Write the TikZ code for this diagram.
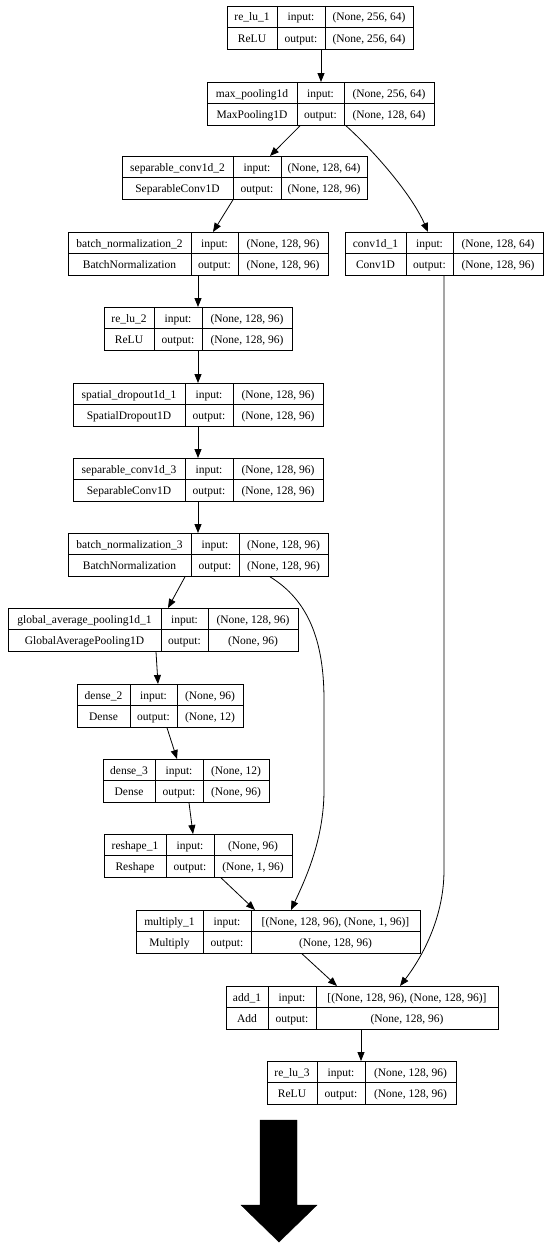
\documentclass[tikz,border=0pt]{standalone}
\usepackage{fontspec}
\setmainfont{Liberation Serif}
\usetikzlibrary{arrows.meta}
\tikzset{
  box/.style={draw, line width=0.8pt, inner sep=0pt, minimum height=43pt, anchor=north west},
  cell/.style={line width=0.8pt},
  txt/.style={inner sep=0pt, anchor=base, font=\fontsize{11.5}{13}\selectfont},
  edge/.style={line width=0.8pt, -{Triangle[length=9pt,width=7pt]}},
  bigarrow/.style={fill=black, draw=black}
}
\newcommand\lay[8]{\def\Ln{#1}\def\La{#2}\def\Lb{#3}\def\Lc{#4}\def\Ld{#5}\def\Lt{#6}\def\Lname{#7}\def\Lcls{#8}\layio}
\newcommand\layio[2]{%
  \pgfmathsetmacro\Lm{\Lt+21.5}\pgfmathsetmacro\Lbt{\Lt+43}%
  \pgfmathsetmacro\Lra{\Lt+15}\pgfmathsetmacro\Lrb{\Lt+36.5}%
  \pgfmathsetmacro\Lxa{(\La+\Lb)/2}\pgfmathsetmacro\Lxb{(\Lb+\Lc)/2}\pgfmathsetmacro\Lxc{(\Lc+\Ld)/2}%
  \pgfmathsetmacro\Lw{\Ld-\La}%
  \node[box, minimum width=\Lw pt] (\Ln) at (\La,\Lt) {};
  \draw[cell] (\Lb,\Lt) -- (\Lb,\Lbt) (\Lc,\Lt) -- (\Lc,\Lbt) (\La,\Lm) -- (\Ld,\Lm);
  \node[txt] (\Ln-name) at (\Lxa,\Lra) {\Lname};
  \node[txt] (\Ln-cls) at (\Lxa,\Lrb) {\Lcls};
  \node[txt] (\Ln-inl) at (\Lxb,\Lra) {input:};
  \node[txt] (\Ln-outl) at (\Lxb,\Lrb) {output:};
  \node[txt] (\Ln-in) at (\Lxc,\Lra) {#1};
  \node[txt] (\Ln-out) at (\Lxc,\Lrb) {#2};
}
\begin{document}
\begin{tikzpicture}[x=1pt,y=-1pt]
\useasboundingbox (0,0) rectangle (550,1247);
\lay{re1}{227}{277}{325}{413}{6}{re\_lu\_1}{ReLU}{(None, 256, 64)}{(None, 256, 64)}
\lay{mp}{207}{297}{344}{434}{82}{max\_pooling1d}{MaxPooling1D}{(None, 256, 64)}{(None, 128, 64)}
\lay{sep2}{122}{233}{281}{367}{156}{separable\_conv1d\_2}{SeparableConv1D}{(None, 128, 64)}{(None, 128, 96)}
\lay{bn2}{68}{191}{238}{328}{232}{batch\_normalization\_2}{BatchNormalization}{(None, 128, 96)}{(None, 128, 96)}
\lay{conv}{345}{406}{453}{543}{232}{conv1d\_1}{Conv1D}{(None, 128, 64)}{(None, 128, 96)}
\lay{relu2}{104}{154}{202}{292}{307}{re\_lu\_2}{ReLU}{(None, 128, 96)}{(None, 128, 96)}
\lay{sp}{73}{185}{233}{323}{383}{spatial\_dropout1d\_1}{SpatialDropout1D}{(None, 128, 96)}{(None, 128, 96)}
\lay{sep3}{73}{185}{233}{323}{458}{separable\_conv1d\_3}{SeparableConv1D}{(None, 128, 96)}{(None, 128, 96)}
\lay{bn3}{68}{191}{239}{328}{533}{batch\_normalization\_3}{BatchNormalization}{(None, 128, 96)}{(None, 128, 96)}
\lay{gap}{8}{161}{208}{298}{608}{global\_average\_pooling1d\_1}{GlobalAveragePooling1D}{(None, 128, 96)}{(None, 96)}
\lay{d2}{77}{130}{177}{243}{684}{dense\_2}{Dense}{(None, 96)}{(None, 12)}
\lay{d3}{103}{155}{203}{269}{759}{dense\_3}{Dense}{(None, 12)}{(None, 96)}
\lay{rs}{104}{166}{214}{292}{834}{reshape\_1}{Reshape}{(None, 96)}{(None, 1, 96)}
\lay{mul}{136}{203}{251}{420}{910}{multiply\_1}{Multiply}{[(None, 128, 96), (None, 1, 96)]}{(None, 128, 96)}
\lay{add}{226}{268}{316}{498}{986}{add\_1}{Add}{[(None, 128, 96), (None, 128, 96)]}{(None, 128, 96)}
\lay{relu3}{267}{317}{365}{456}{1061}{re\_lu\_3}{ReLU}{(None, 128, 96)}{(None, 128, 96)}
% connectors
\draw[edge] ([xshift=94pt]re1.south west) -- ([xshift=114pt]mp.north west);
\draw[edge] ([xshift=93pt]mp.south west) -- ([xshift=148pt]sep2.north west);
\draw[edge] ([xshift=139pt]mp.south west) .. controls (375,152) and (412,195) .. ([xshift=83pt]conv.north west);
\draw[edge] ([xshift=111pt]sep2.south west) -- ([xshift=145pt]bn2.north west);
\draw[edge] ([xshift=130pt]bn2.south west) -- ([xshift=94pt]relu2.north west);
\draw[edge] ([xshift=94pt]relu2.south west) -- ([xshift=125pt]sp.north west);
\draw[edge] ([xshift=125pt]sp.south west) -- ([xshift=125pt]sep3.north west);
\draw[edge] ([xshift=125pt]sep3.south west) -- ([xshift=130pt]bn3.north west);
\draw[edge] ([xshift=117pt]bn3.south west) -- ([xshift=160pt]gap.north west);
\draw[edge] ([xshift=202pt]bn3.south west) .. controls (308,600) and (324,640) .. (324,700) -- (324,790) .. controls (324,840) and (305,880) .. ([xshift=155pt]mul.north west);
\draw[edge] ([xshift=148pt]gap.south west) -- ([xshift=81pt]d2.north west);
\draw[edge] ([xshift=90pt]d2.south west) -- ([xshift=74pt]d3.north west);
\draw[edge] ([xshift=86pt]d3.south west) -- ([xshift=89pt]rs.north west);
\draw[edge] ([xshift=117pt]rs.south west) -- ([xshift=119pt]mul.north west);
\draw[edge] ([xshift=166pt]mul.south west) -- ([xshift=111pt]add.north west);
\draw[edge] ([xshift=99pt]conv.south west) -- (444,870) .. controls (444,920) and (420,960) .. ([xshift=174pt]add.north west);
\draw[edge] ([xshift=135pt]add.south west) -- ([xshift=94pt]relu3.north west);
% big arrow
\fill[bigarrow] (260,1120) -- (297,1120) -- (297,1205) -- (317,1205) -- (279,1242) -- (241,1205) -- (260,1205) -- cycle;
\end{tikzpicture}
\end{document}
